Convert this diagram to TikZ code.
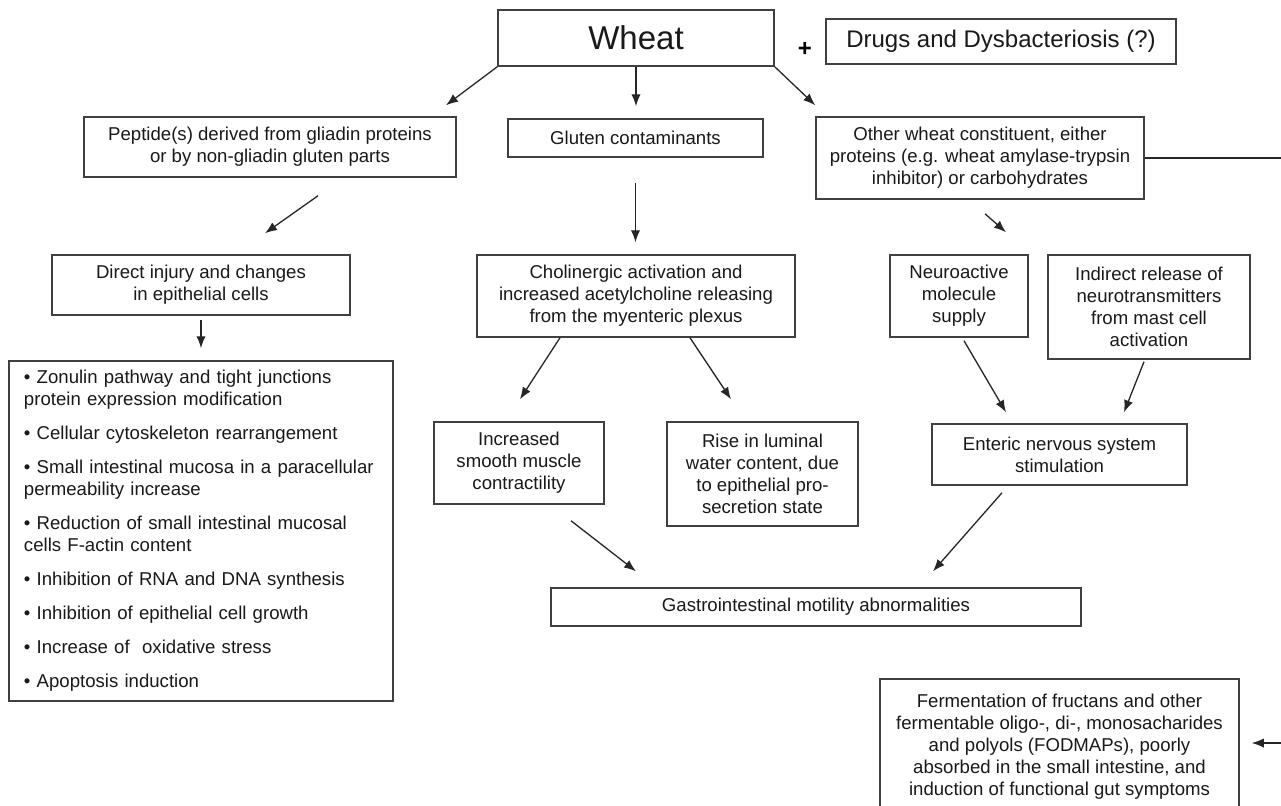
\documentclass[tikz,border=0pt]{standalone}
\usepackage{fontspec}
\setmainfont{Liberation Sans}
\usetikzlibrary{positioning,arrows.meta,calc}

\begin{document}
\begin{tikzpicture}[
  x=0.5pt, y=-0.5pt,
  font=\fontsize{9.3}{11}\selectfont,
  box/.style 2 args={draw=black!75,line width=0.75pt,inner sep=0pt,align=center,text=black!90,minimum width=#1,minimum height=#2},
  arr/.style={draw=black!85,line width=0.65pt,-{Latex[length=6pt,width=4.6pt]}},
]
  \fill[white] (0,0) rectangle (1281,805);
  \useasboundingbox (0,0) rectangle (1281,805);
  \clip (0,0) rectangle (1281,805);

  \node[box={138pt}{28pt},font=\fontsize{16.5}{19}\selectfont] (wheat) at (636,38) {Wheat};
  \node[font=\bfseries\fontsize{12}{14}\selectfont] (plus) at (805,49) {+};
  \node[box={175pt}{22.5pt},font=\fontsize{12}{14}\selectfont] (drugs) at (1001,41.5) {Drugs and Dysbacteriosis (?)};

  \node[box={186pt}{30pt}] (peptide) at (270,147) {Peptide(s) derived from gliadin proteins\\or by non-gliadin gluten parts};
  \node[box={127.5pt}{19pt}] (gluten) at (635.5,138) {Gluten contaminants};
  \node[box={164pt}{41pt}] (other) at (980,158) {Other wheat constituent, either\\proteins (e.g. wheat amylase-trypsin\\inhibitor) or carbohydrates};

  \node[box={149pt}{30pt}] (direct) at (201,285) {Direct injury and changes\\in epithelial cells};
  \node[box={159pt}{41pt}] (chol) at (636,296) {Cholinergic activation and\\increased acetylcholine releasing\\from the myenteric plexus};
  \node[box={69pt}{41pt}] (neuro) at (959,296) {Neuroactive\\molecule\\supply};
  \node[box={101pt}{52pt}] (indirect) at (1149,307) {Indirect release of\\neurotransmitters\\from mast cell\\activation};

  \node[box={192pt}{170pt},align=left,text width=177pt,inner xsep=7.5pt] (bullets) at (201,531) {%
    • Zonulin pathway and tight junctions\\protein expression modification\\[6pt]
    • Cellular cytoskeleton rearrangement\\[6pt]
    • Small intestinal mucosa in a paracellular\\permeability increase\\[6pt]
    • Reduction of small intestinal mucosal\\cells F-actin content\\[6pt]
    • Inhibition of RNA and DNA synthesis\\[6pt]
    • Inhibition of epithelial cell growth\\[6pt]
    • Increase of~ oxidative stress\\[6pt]
    • Apoptosis induction};

  \node[box={85pt}{41pt}] (increased) at (519,463) {Increased\\smooth muscle\\contractility};
  \node[box={95.5pt}{52pt}] (rise) at (762.5,474) {Rise in luminal\\water content, due\\to epithelial pro-\\secretion state};
  \node[box={127.5pt}{30.5pt}] (enteric) at (1059.5,454.5) {Enteric nervous system\\stimulation};

  \node[box={265pt}{19pt}] (gastro) at (816,607) {Gastrointestinal motility abnormalities};
  \node[box={179.5pt}{68pt}] (ferm) at (1059.5,747) {Fermentation of fructans and other\\fermentable oligo-, di-, monosacharides\\and polyols (FODMAPs), poorly\\absorbed in the small intestine, and\\induction of functional gut symptoms};

  % arrows out of Wheat
  \draw[arr] (wheat.south west) -- ($(peptide.north)+(176,-11)$);
  \draw[arr] (wheat.south) -- ($(gluten.north)+(0.5,-12)$);
  \draw[arr] (wheat.south east) -- ($(other.north west)+(0,-11)$);

  % second level
  \draw[arr] ($(peptide.south)+(48,18)$) -- ($(direct.north)+(64,-21)$);
  \draw[arr] ($(gluten.south)+(0,25)$) -- ($(chol.north)+(-0.5,-12)$);
  \draw[arr] ($(other.south)+(5,14)$) -- ($(neuro.north)+(47,-22)$);
  \draw[arr] ($(direct.south)+(0,4)$) -- ($(bullets.north)+(0,-12)$);

  \draw[arr] ($(chol.south)+(-76,0)$) -- ($(increased.north)+(1,-22)$);
  \draw[arr] ($(chol.south)+(54,0)$) -- ($(rise.north)+(-31.5,-22)$);
  \draw[arr] ($(neuro.south)+(5,3)$) -- ($(enteric.north)+(-53.5,-11)$);
  \draw[arr] ($(indirect.south)+(-5,2)$) -- ($(enteric.north)+(64.5,-11)$);

  \draw[arr] ($(increased.south)+(52,16)$) -- ($(gastro.north)+(-180,-16)$);
  \draw[arr] ($(enteric.south)+(-57.5,7)$) -- ($(gastro.north)+(117,-16)$);

  % carbohydrates branch, runs off the right edge
  \draw[arr,shorten >=6pt] (other.east) -- ++(200,0) |- ($(ferm.east)+(0,-4)$);
\end{tikzpicture}
\end{document}
